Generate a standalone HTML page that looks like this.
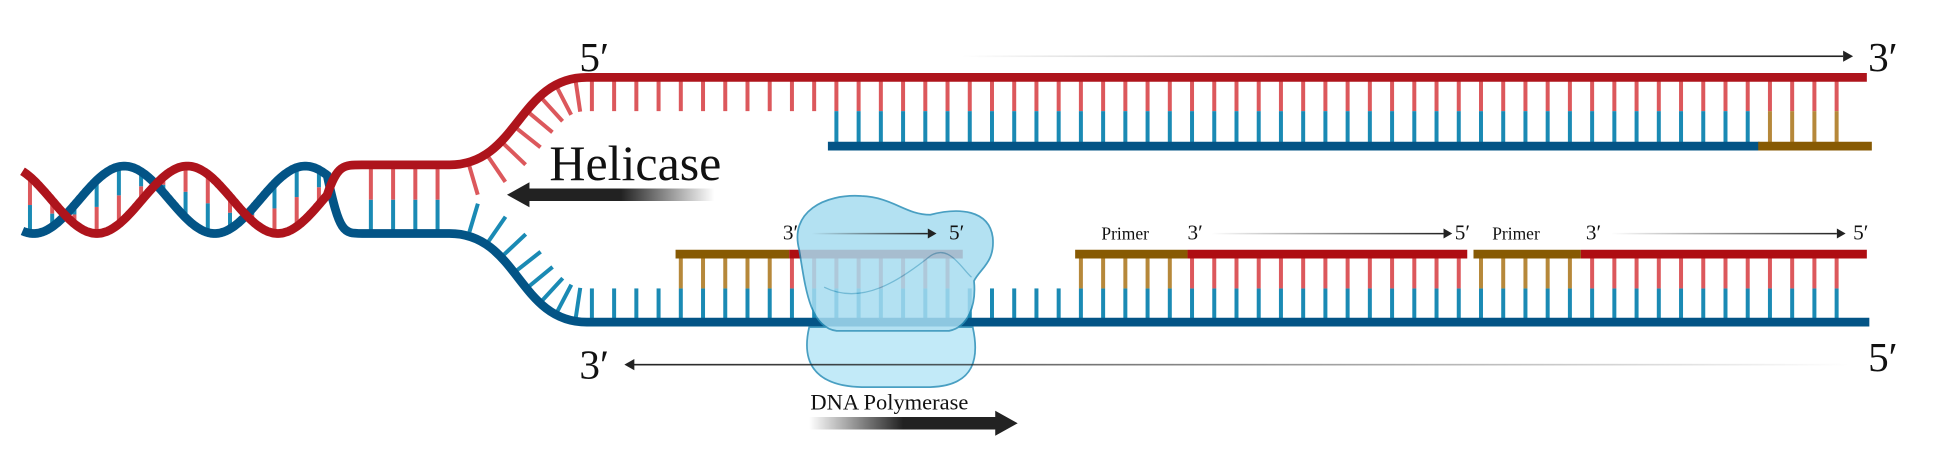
<!DOCTYPE html>
<html><head><meta charset="utf-8"><style>
html,body{margin:0;padding:0;background:#fff;width:1958px;height:457px;overflow:hidden}
svg{display:block}
text{font-family:"Liberation Serif",serif;fill:#111}
</style></head><body>
<svg id="d" width="1958" height="457" viewBox="0 0 1568 366" preserveAspectRatio="none" xmlns="http://www.w3.org/2000/svg">
<defs>
<linearGradient id="gL" x1="0" x2="1"><stop offset="0" stop-color="#222"/><stop offset="0.55" stop-color="#222"/><stop offset="1" stop-color="#222" stop-opacity="0"/></linearGradient>
<linearGradient id="gR" x1="0" x2="1"><stop offset="0" stop-color="#222" stop-opacity="0"/><stop offset="0.45" stop-color="#222"/><stop offset="1" stop-color="#222"/></linearGradient>
<linearGradient id="gLine" x1="0" x2="1"><stop offset="0" stop-color="#222" stop-opacity="0"/><stop offset="1" stop-color="#222"/></linearGradient>
<linearGradient id="gLineR" x1="0" x2="1"><stop offset="0" stop-color="#222"/><stop offset="1" stop-color="#222" stop-opacity="0"/></linearGradient>
</defs>
<g id="rungs"></g>
<g id="strands"></g>
<g opacity="0.85">
<path d="M648,262 C642,288 650,309 690,310 L745,310 C782,309 784,285 779,262 Z" fill="#b8e7f7" stroke="#2a8fb8" stroke-width="1.4"/>
<path d="M640,200 C632,170 660,155 690,157 C715,158 725,172 745,172 C768,166 792,168 795,190 C797,210 785,215 780,225 C782,245 775,262 760,265 L670,265 C648,262 645,230 640,200 Z" fill="#a6dcf0" stroke="#2a8fb8" stroke-width="1.4"/>
<path d="M660,230 C690,245 720,225 745,205 C760,195 770,215 778,222" fill="none" stroke="#2a8fb8" stroke-width="1" opacity="0.6"/>
</g>
<g>
<text x="464" y="57" font-size="33">5′</text>
<text x="1496" y="57" font-size="33">3′</text>
<text x="464" y="303" font-size="33">3′</text>
<text x="1496" y="297" font-size="33">5′</text>
<text x="440" y="144" font-size="40">Helicase</text>
<text x="649" y="328" font-size="18">DNA Polymerase</text>
<text x="882" y="192" font-size="14">Primer</text>
<text x="1195" y="192" font-size="14">Primer</text>
<text x="951" y="192" font-size="17">3′</text>
<text x="1165" y="192" font-size="17">5′</text>
<text x="1270" y="192" font-size="17">3′</text>
<text x="1484" y="192" font-size="17">5′</text>
<text x="627" y="192" font-size="17">3′</text>
<text x="760" y="192" font-size="17">5′</text>
</g>
<g>
<rect x="770" y="44.4" width="706" height="1.3" fill="url(#gLine)"/>
<path d="M1476,40.5 L1484,45 L1476,49.5 Z" fill="#222"/>
<rect x="506" y="291.4" width="975" height="1.3" fill="url(#gLineR)"/>
<path d="M508,287.5 L500,292 L508,296.5 Z" fill="#222"/>
<rect x="970" y="186.5" width="186" height="1.2" fill="url(#gLine)"/><path d="M1156,183 L1163,187 L1156,191 Z" fill="#222"/>
<rect x="1290" y="186.5" width="181" height="1.2" fill="url(#gLine)"/><path d="M1471,183 L1478,187 L1471,191 Z" fill="#222"/>
<rect x="650" y="186.5" width="93" height="1.2" fill="url(#gLine)"/><path d="M743,183 L750,187 L743,191 Z" fill="#222"/>
<path d="M406,156 L424,146 L424,151 L572,151 L572,161 L424,161 L424,166 Z" fill="url(#gL)"/>
<path d="M815,339 L797,329 L797,334 L648,334 L648,344 L797,344 L797,349 Z" fill="url(#gR)"/>
</g>
</svg>
<script>
const topCols = 57;
const helixStart = 24;
const segments = [["primer",541,632],["new",632,771],["primer",861,951],["new",951,1175],["primer",1180,1266],["new",1266,1495]];
const NS='http://www.w3.org/2000/svg';
const R=document.getElementById('rungs'), S=document.getElementById('strands');
function ln(g,x1,y1,x2,y2,c,w){const e=document.createElementNS(NS,'line');e.setAttribute('x1',x1);e.setAttribute('y1',y1);e.setAttribute('x2',x2);e.setAttribute('y2',y2);e.setAttribute('stroke',c);e.setAttribute('stroke-width',w);


g.appendChild(e);return e;}
function pth(d,c,w){const e=document.createElementNS(NS,'path');e.setAttribute('d',d);e.setAttribute('stroke',c);e.setAttribute('stroke-width',w);e.setAttribute('fill','none');


S.appendChild(e);}
const RR='#dc585c',BR='#1a8ab4',OR='#b6883a';
const redY=x=>160-27*Math.cos(2*Math.PI*(x-150)/145), blueY=x=>160+27*Math.cos(2*Math.PI*(x-172)/145);
for(let x=helixStart;x<272;x+=17.8){const a=redY(x),b=blueY(x),m=(a+b)/2;ln(R,x,a,x,m,RR,3.2);ln(R,x,m,x,b,BR,3.2);}
for(let x=297;x<360;x+=17.8){ln(R,x,132,x,160,RR,3.2);ln(R,x,160,x,187,BR,3.2);}
function bez(p,t){const u=1-t;return [u*u*u*p[0][0]+3*u*u*t*p[1][0]+3*u*t*t*p[2][0]+t*t*t*p[3][0],u*u*u*p[0][1]+3*u*u*t*p[1][1]+3*u*t*t*p[2][1]+t*t*t*p[3][1]];}
const rP=[[360,132],[415,132],[415,62],[470,62]], bP=[[360,187],[415,187],[415,258],[470,258]];
for(let t=0.1;t<0.98;t+=0.12){[[rP,RR,1],[bP,BR,-1]].forEach(([p,c,s])=>{const a=bez(p,t),b=bez(p,t+0.01);let dx=b[0]-a[0],dy=b[1]-a[1];const L=Math.hypot(dx,dy);let nx=-dy/L*s,ny=dx/L*s;if(ny*s<0){nx=-nx;ny=-ny;}ln(R,a[0],a[1],a[0]+nx*27,a[1]+ny*27,c,3.2);});}
for(let i=0;i<topCols;i++){const x=474+17.8*i;if(x>1492)break;ln(R,x,62,x,89,RR,3.2);if(x>663)ln(R,x,89,x,117,x>1408?OR:BR,3.2);}
for(let i=0;i<topCols;i++){const x=474+17.8*i;if(x>1494)break;ln(R,x,258,x,231,BR,3.2);const s=segments.find(g=>x>g[1]+1&&x<g[2]);if(s)ln(R,x,231,x,204,s[0]=='primer'?OR:RR,3.2);}
let dB='M18,'+blueY(18),dR='M18,'+redY(18);
for(let x=19;x<=262;x++){dB+=' L'+x+','+blueY(x).toFixed(1);dR+=' L'+x+','+redY(x).toFixed(1);}
dB+=' C272,187 275,187 290,187 L360,187 C415,187 415,258 470,258 L1497,258';
dR+=' C270,132 275,132 290,132 L360,132 C415,132 415,62 470,62 L1495,62';
pth(dB,'#035486',7);pth(dR,'#ae141c',7);
pth('M663,117 L1409,117','#035486',7);pth('M1408,117 L1499,117','#875a03',7);
segments.forEach(g=>pth('M'+g[1]+',203.5 L'+g[2]+',203.5',g[0]=='primer'?'#875a03':'#ae0d12',7));
</script>
</body></html>
